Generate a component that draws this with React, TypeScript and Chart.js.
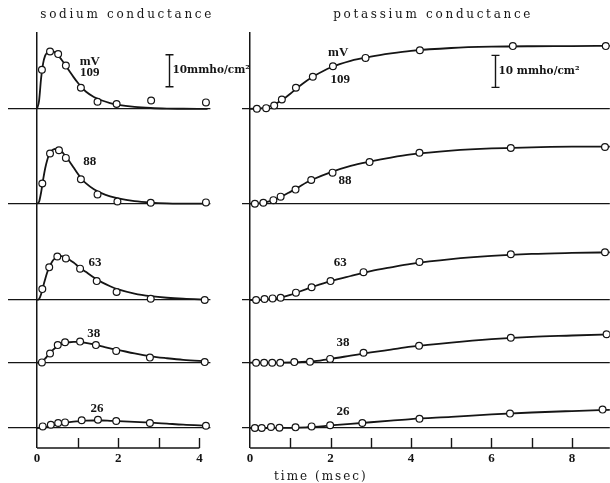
import React, { useEffect, useRef } from 'react';
import { Chart, registerables } from 'chart.js';

Chart.register(...registerables);

const INK = '#151515';

// depolarisation of each trace (mV), top to bottom
const voltages = ['109', '88', '63', '38', '26'];

// ---------- sodium conductance (mmho/cm²) ----------
const naCurveTimes = [0, 0.05, 0.1, 0.15, 0.2, 0.25, 0.3, 0.35, 0.4, 0.5, 0.6, 0.7, 0.8, 0.9, 1.0, 1.1, 1.2, 1.4, 1.6, 1.8, 2.0, 2.4, 2.8, 3.2, 3.6, 4.2];
const naCurveValues = [
  [0, 2.5, 9.5, 14.2, 16.6, 17.6, 18.2, 18.3, 18.0, 17.0, 15.4, 13.6, 11.7, 9.9, 8.2, 6.7, 5.4, 3.7, 2.6, 1.8, 1.25, 0.6, 0.25, 0.08, 0.02, 0],
  [0, 0.6, 3.5, 7.5, 11.0, 13.6, 15.3, 16.3, 16.9, 17.2, 16.4, 14.9, 13.2, 11.3, 9.4, 7.7, 6.4, 4.5, 3.2, 2.3, 1.65, 0.8, 0.35, 0.12, 0.04, 0],
  [0, 0.3, 1.8, 4.2, 6.5, 8.6, 10.2, 11.5, 12.5, 13.5, 13.7, 13.3, 12.6, 11.7, 10.7, 9.7, 8.8, 7.0, 5.5, 4.3, 3.3, 2.0, 1.2, 0.7, 0.4, 0.15],
  [0, 0.05, 0.3, 0.7, 1.3, 2.0, 2.7, 3.4, 4.1, 5.1, 5.8, 6.2, 6.4, 6.5, 6.5, 6.4, 6.2, 5.7, 5.1, 4.5, 4.0, 2.9, 2.0, 1.4, 0.9, 0.45],
  [0, 0.02, 0.08, 0.15, 0.3, 0.42, 0.55, 0.7, 0.85, 1.15, 1.45, 1.65, 1.85, 2.0, 2.1, 2.2, 2.3, 2.35, 2.35, 2.25, 2.15, 1.9, 1.65, 1.35, 1.05, 0.75],
];
const naPointTimes = [
  [0.12, 0.32, 0.52, 0.71, 1.08, 1.49, 1.96, 2.81, 4.16],
  [0.13, 0.32, 0.54, 0.71, 1.08, 1.49, 1.98, 2.80, 4.16],
  [0.13, 0.30, 0.50, 0.71, 1.06, 1.47, 1.96, 2.80, 4.13],
  [0.12, 0.32, 0.51, 0.69, 1.06, 1.45, 1.95, 2.78, 4.13],
  [0.14, 0.34, 0.52, 0.69, 1.10, 1.50, 1.95, 2.78, 4.16],
];
const naPointValues = [
  [12.2, 17.9, 17.1, 13.5, 6.6, 2.2, 1.5, 2.6, 2.0],
  [6.3, 15.7, 16.7, 14.3, 7.6, 2.9, 0.7, 0.3, 0.4],
  [3.4, 10.2, 13.6, 13.0, 9.8, 5.9, 2.5, 0.4, 0.0],
  [0.1, 2.9, 5.5, 6.4, 6.6, 5.5, 3.7, 1.6, 0.2],
  [0.5, 1.0, 1.55, 1.75, 2.4, 2.6, 2.2, 1.55, 0.7],
];

// ---------- potassium conductance (mmho/cm²) ----------
const kCurveTimes = [0, 0.2, 0.4, 0.6, 0.8, 1.0, 1.2, 1.4, 1.6, 2.0, 2.5, 3.0, 3.5, 4.0, 5.0, 6.0, 7.0, 8.0, 9.0];
const kCurveValues = [
  [0, 0.07, 0.45, 1.3, 2.8, 4.7, 6.8, 8.7, 10.3, 12.9, 15.0, 16.3, 17.3, 18.1, 19.0, 19.4, 19.55, 19.6, 19.7],
  [0, 0.07, 0.45, 1.2, 2.35, 3.7, 5.1, 6.6, 7.8, 9.8, 11.8, 13.2, 14.4, 15.4, 16.6, 17.3, 17.6, 17.8, 17.8],
  [0, 0.03, 0.15, 0.45, 0.9, 1.6, 2.5, 3.4, 4.3, 5.9, 7.5, 9.0, 10.2, 11.3, 12.8, 13.8, 14.4, 14.7, 14.9],
  [0, 0, 0, 0.01, 0.03, 0.07, 0.15, 0.3, 0.5, 1.2, 2.2, 3.2, 4.1, 5.0, 6.3, 7.35, 8.1, 8.5, 8.9],
  [0, 0, 0, 0.01, 0.03, 0.07, 0.13, 0.22, 0.35, 0.8, 1.3, 1.8, 2.3, 2.8, 3.5, 4.25, 4.85, 5.3, 5.7],
];
const kPointTimes = [
  [0.17, 0.40, 0.60, 0.79, 1.14, 1.56, 2.06, 2.87, 4.22, 6.53, 8.84],
  [0.12, 0.33, 0.58, 0.76, 1.13, 1.52, 2.05, 2.97, 4.21, 6.48, 8.82],
  [0.15, 0.36, 0.56, 0.76, 1.14, 1.53, 2.00, 2.82, 4.21, 6.48, 8.82],
  [0.15, 0.35, 0.55, 0.75, 1.10, 1.49, 1.99, 2.82, 4.20, 6.48, 8.86],
  [0.12, 0.29, 0.52, 0.73, 1.13, 1.53, 1.99, 2.79, 4.21, 6.46, 8.76],
];
const kPointValues = [
  [0, 0.2, 1.0, 2.9, 6.6, 10.0, 13.3, 15.9, 18.3, 19.6, 19.6],
  [0, 0.3, 1.1, 2.2, 4.4, 7.4, 9.7, 13.0, 15.9, 17.4, 17.7],
  [0, 0.3, 0.5, 0.7, 2.3, 4.0, 5.9, 8.7, 11.9, 14.3, 14.9],
  [0, 0, 0, 0, 0.2, 0.3, 1.2, 3.1, 5.3, 7.8, 8.9],
  [0, 0, 0.3, 0.1, 0.2, 0.5, 0.85, 1.55, 2.9, 4.5, 5.75],
];

// tick labels (msec)
const naTickLabels = [0, 2, 4];
const kTickLabels = [0, 2, 4, 6, 8];
const naTickMarks = [1, 2, 3, 4];
const kTickMarks = [1, 2, 3, 4, 5, 6, 7, 8];

// ---------- layout (not data) ----------
const traceAxisMin = [-6.6, -8.2, -6.25, -6.95, -6.25];
const traceAxisMax = [24.0, 23.05, 21.9, 13.35, 13.45];

const SERIF = '"DejaVu Serif", "Liberation Serif", serif';
const NUMFONT = 'bold 13px "Liberation Serif", serif';

type Panel = {
  title: string;
  titleT: number;
  xMin: number;
  xMax: number;
  axisEnd: number;
  padLeft: number;
  padRight: number;
  tickLabels: number[];
  tickMarks: number[];
  curveTimes: number[];
  curveValues: number[][];
  pointTimes: number[][];
  pointValues: number[][];
  labelT: number[];
  labelV: number[];
  mvT: number;
  mvV: number;
  barT: number;
  barFrom: number;
  barText: string;
  xTitle?: string;
  xTitleT?: number;
};

const sodiumPanel: Panel = {
  title: 'sodium conductance',
  titleT: 2.22,
  xMin: -0.72,
  xMax: 4.27,
  axisEnd: 4,
  padLeft: 7.8,
  padRight: 399.6,
  tickLabels: naTickLabels,
  tickMarks: naTickMarks,
  curveTimes: naCurveTimes,
  curveValues: naCurveValues,
  pointTimes: naPointTimes,
  pointValues: naPointValues,
  labelT: [1.3, 1.3, 1.43, 1.4, 1.48],
  labelV: [11.2, 13.1, 11.6, 9.0, 5.9],
  mvT: 1.3,
  mvV: 14.6,
  barT: 3.25,
  barFrom: 6.9,
  barText: '10mmho/cm²',
};

const potassiumPanel: Panel = {
  title: 'potassium conductance',
  titleT: 4.55,
  xMin: -0.2,
  xMax: 8.94,
  axisEnd: 8.94,
  padLeft: 242,
  padRight: 0.2,
  tickLabels: kTickLabels,
  tickMarks: kTickMarks,
  curveTimes: kCurveTimes,
  curveValues: kCurveValues,
  pointTimes: kPointTimes,
  pointValues: kPointValues,
  labelT: [2.24, 2.36, 2.24, 2.31, 2.31],
  labelV: [9.0, 7.1, 11.6, 6.2, 5.0],
  mvT: 2.19,
  mvV: 17.4,
  barT: 6.09,
  barFrom: 6.7,
  barText: '10 mmho/cm²',
  xTitle: 'time (msec)',
  xTitleT: 1.76,
};

function overlayPlugin(p: Panel) {
  return {
    id: 'overlay',
    afterDraw(chart: any) {
      const ctx: CanvasRenderingContext2D = chart.ctx;
      const x = chart.scales.x;
      const area = chart.chartArea;
      ctx.save();
      ctx.strokeStyle = INK;
      ctx.fillStyle = INK;
      ctx.lineCap = 'butt';

      // time axis
      ctx.lineWidth = 1.5;
      ctx.beginPath();
      ctx.moveTo(x.getPixelForValue(0), area.bottom);
      ctx.lineTo(x.getPixelForValue(p.axisEnd), area.bottom);
      ctx.stroke();
      ctx.lineWidth = 1.4;
      for (const t of p.tickMarks) {
        const px = Math.round(x.getPixelForValue(t)) + 0.5;
        ctx.beginPath();
        ctx.moveTo(px, area.bottom);
        ctx.lineTo(px, area.bottom - 10);
        ctx.stroke();
      }

      // trace labels
      ctx.font = NUMFONT;
      ctx.textAlign = 'center';
      ctx.textBaseline = 'middle';
      voltages.forEach((v, i) => {
        const ys = chart.scales['y' + i];
        ctx.fillText(v, x.getPixelForValue(p.labelT[i]), ys.getPixelForValue(p.labelV[i]));
      });
      const y0 = chart.scales.y0;
      ctx.fillText('mV', x.getPixelForValue(p.mvT), y0.getPixelForValue(p.mvV));

      // scale bar: 10 mmho/cm²
      const bx = Math.round(x.getPixelForValue(p.barT)) + 0.5;
      const b1 = y0.getPixelForValue(p.barFrom);
      const b2 = y0.getPixelForValue(p.barFrom + 10);
      ctx.lineWidth = 1.4;
      ctx.beginPath();
      ctx.moveTo(bx, b1);
      ctx.lineTo(bx, b2);
      ctx.moveTo(bx - 4, b1);
      ctx.lineTo(bx + 4, b1);
      ctx.moveTo(bx - 4, b2);
      ctx.lineTo(bx + 4, b2);
      ctx.stroke();
      ctx.font = 'bold 10.5px ' + SERIF;
      ctx.textAlign = 'left';
      ctx.fillText(p.barText, bx + 3, (b1 + b2) / 2);

      // panel title
      ctx.font = '12px ' + SERIF;
      ctx.textAlign = 'center';
      (ctx as any).letterSpacing = '2.7px';
      ctx.fillText(p.title, x.getPixelForValue(p.titleT), area.top - 17);

      if (p.xTitle) {
        (ctx as any).letterSpacing = '2px';
        ctx.fillText(p.xTitle, x.getPixelForValue(p.xTitleT as number), area.bottom + 29);
      }
      ctx.restore();
    },
  };
}

function buildConfig(p: Panel): any {
  const datasets: any[] = [];
  voltages.forEach((v, i) => {
    datasets.push({
      type: 'line',
      label: v + ' mV (computed)',
      data: p.curveTimes.map((t, j) => ({ x: t, y: p.curveValues[i][j] })),
      yAxisID: 'y' + i,
      borderColor: INK,
      borderWidth: 1.8,
      pointRadius: 0,
      cubicInterpolationMode: 'monotone',
      fill: false,
      order: 2,
    });
  });
  voltages.forEach((v, i) => {
    datasets.push({
      type: 'line',
      label: v + ' mV (measured)',
      data: p.pointTimes[i].map((t, j) => ({ x: t, y: p.pointValues[i][j] })),
      yAxisID: 'y' + i,
      showLine: false,
      pointRadius: 3.4,
      pointBorderWidth: 1.2,
      pointBackgroundColor: '#ffffff',
      pointBorderColor: INK,
      order: 1,
    });
  });

  const scales: any = {
    x: {
      type: 'linear',
      position: 'bottom',
      min: p.xMin,
      max: p.xMax,
      afterBuildTicks: (s: any) => {
        s.ticks = p.tickLabels.map((v) => ({ value: v }));
      },
      ticks: {
        autoSkip: false,
        maxRotation: 0,
        padding: 3,
        color: INK,
        font: { family: '"Liberation Serif", serif', size: 13, weight: 'bold' },
      },
      grid: {
        color: (c: any) => (c.tick && c.tick.value === 0 ? INK : 'rgba(0,0,0,0)'),
        lineWidth: 1.5,
        drawTicks: false,
      },
      border: { display: false },
      afterFit: (s: any) => {
        s.height = 35;
      },
    },
  };
  voltages.forEach((v, i) => {
    scales['y' + i] = {
      type: 'linear',
      position: 'left',
      stack: 'traces',
      stackWeight: traceAxisMax[i] - traceAxisMin[i],
      weight: voltages.length - i,
      min: traceAxisMin[i],
      max: traceAxisMax[i],
      afterBuildTicks: (s: any) => {
        s.ticks = [{ value: 0 }];
      },
      ticks: { display: false },
      grid: { color: INK, lineWidth: 1.3, drawTicks: false },
      border: { display: false },
      afterFit: (s: any) => {
        s.width = 0;
      },
    };
  });

  return {
    type: 'line',
    data: { datasets },
    options: {
      responsive: false,
      animation: false,
      devicePixelRatio: 1,
      events: [],
      layout: {
        autoPadding: false,
        padding: { left: p.padLeft, right: p.padRight, top: 32, bottom: 0 },
      },
      plugins: { legend: { display: false }, tooltip: { enabled: false }, title: { display: false } },
      scales,
    },
    plugins: [overlayPlugin(p)],
  };
}

function PanelChart({ panel }: { panel: Panel }) {
  const ref = useRef<HTMLCanvasElement>(null);
  useEffect(() => {
    const chart = new Chart(ref.current as HTMLCanvasElement, buildConfig(panel));
    return () => chart.destroy();
  }, [panel]);
  return (
    <canvas
      ref={ref}
      width={610}
      height={483}
      style={{ position: 'absolute', left: 0, top: 0, width: 610, height: 483 }}
    />
  );
}

export default function App() {
  return (
    <div style={{ position: 'absolute', left: 0, top: 0, width: 610, height: 483, background: '#ffffff', overflow: 'hidden' }}>
      <PanelChart panel={sodiumPanel} />
      <PanelChart panel={potassiumPanel} />
    </div>
  );
}
